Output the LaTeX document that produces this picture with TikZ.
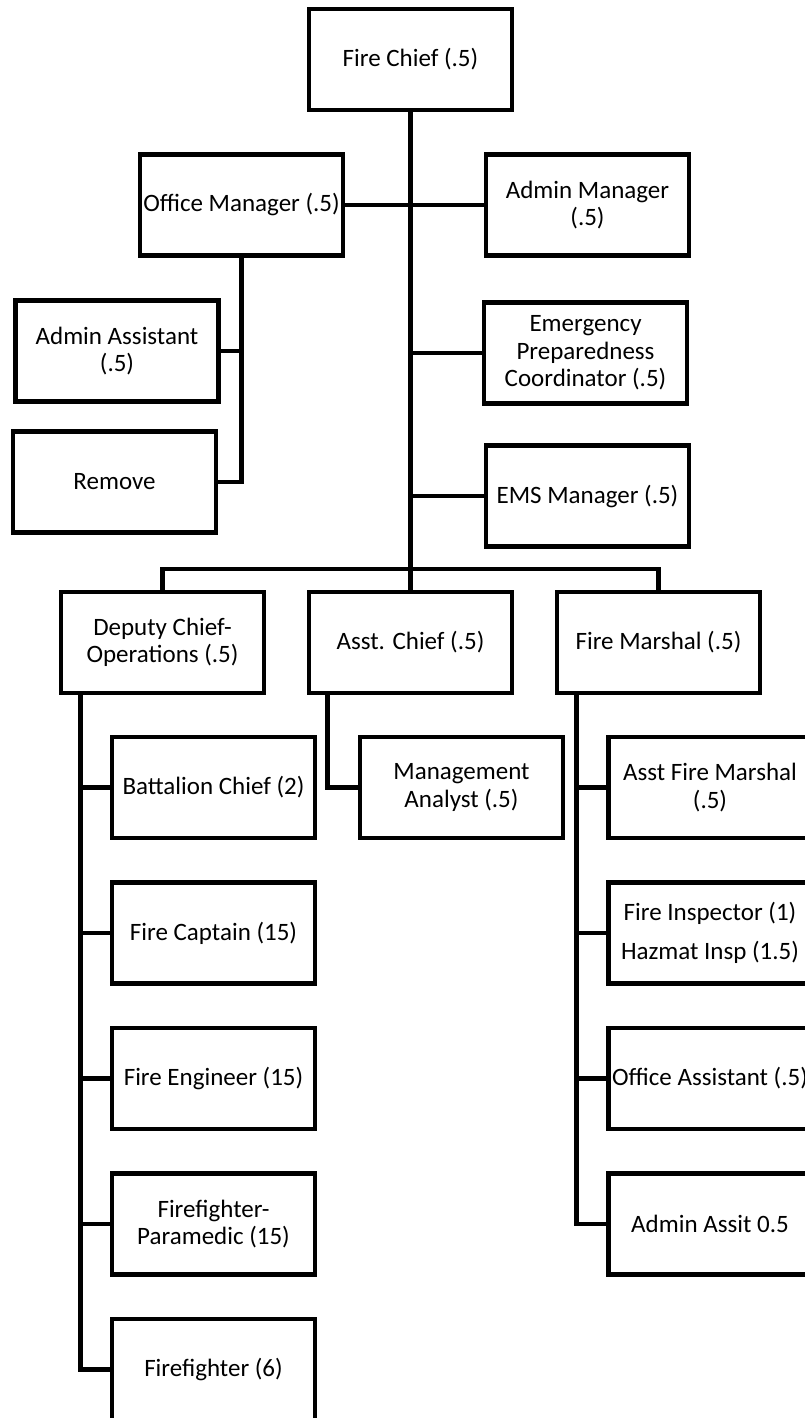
\documentclass[tikz,border=0pt]{standalone}
\usepackage{fontspec}
\setmainfont{Carlito}
\begin{document}
\begin{tikzpicture}[x=1pt,y=-1pt,
  box/.style={draw, line width=4.5pt, rectangle, minimum width=203pt, minimum height=101pt,
    inner sep=0pt, outer sep=0pt, align=center, font=\fontsize{25}{27.5}\selectfont, fill=white},
  conn/.style={line width=4.5pt, line join=miter}]
\fill[white] (0,0) rectangle (805,1418);
\useasboundingbox (0,0) rectangle (805,1418);

\node[box] (fc) at (410.5,59.5) {Fire Chief (.5)};
\node[box] (om) at (241.5,205) {Office Manager (.5)};
\node[box] (am) at (587.5,205) {Admin Manager\\(.5)};
\node[box] (aa) at (117,351) {Admin Assistant\\(.5)};
\node[box] (rm) at (114.5,482) {Remove};
\node[box] (epc) at (585.5,353) {Emergency\\Preparedness\\Coordinator (.5)};
\node[box] (ems) at (587.5,496) {EMS Manager (.5)};
\node[box] (dc) at (162.5,642.5) {Deputy Chief-\\Operations (.5)};
\node[box] (ac) at (410.5,642.5) {Asst. Chief (.5)};
\node[box] (fm) at (658.5,642.5) {Fire Marshal (.5)};
\node[box] (bc) at (213.5,787.5) {Battalion Chief (2)};
\node[box] (ma) at (461.5,787.5) {Management\\Analyst (.5)};
\node[box] (afm) at (710,787.5) {Asst Fire Marshal\\(.5)};
\node[box] (fcap) at (213.5,933) {Fire Captain (15)};
\node[box] (fi) at (710,933) {Fire Inspector (1)\\[11.5pt]Hazmat Insp (1.5)};
\node[box] (fe) at (213.5,1078.5) {Fire Engineer (15)};
\node[box] (oa) at (710,1078.5) {Office Assistant (.5)};
\node[box] (fp) at (213.5,1224) {Firefighter-\\Paramedic (15)};
\node[box] (aas) at (710,1224) {Admin Assit 0.5};
\node[box] (ff) at (213.5,1369.5) {Firefighter (6)};

\draw[conn] (fc.south) -- (ac.north);
\draw[conn] (om.east) -- (am.west);
\draw[conn] (epc.west) -- (epc.west -| fc.south);
\draw[conn] (ems.west) -- (ems.west -| fc.south);
\draw[conn] (dc.north) -- ++(0,-23) -| (fm.north);

\draw[conn] (om.south) |- (rm.east);
\draw[conn] (aa.east) -- (aa.east -| om.south);

\coordinate (dcl) at ([xshift=19.5pt]dc.south west);
\draw[conn] (dcl) |- (ff.west);
\foreach \n in {bc,fcap,fe,fp} \draw[conn] (\n.west) -- (\n.west -| dcl);

\coordinate (acl) at ([xshift=18.5pt]ac.south west);
\draw[conn] (acl) |- (ma.west);

\coordinate (fml) at ([xshift=19.5pt]fm.south west);
\draw[conn] (fml) |- (aas.west);
\foreach \n in {afm,fi,oa} \draw[conn] (\n.west) -- (\n.west -| fml);
\end{tikzpicture}
\end{document}
